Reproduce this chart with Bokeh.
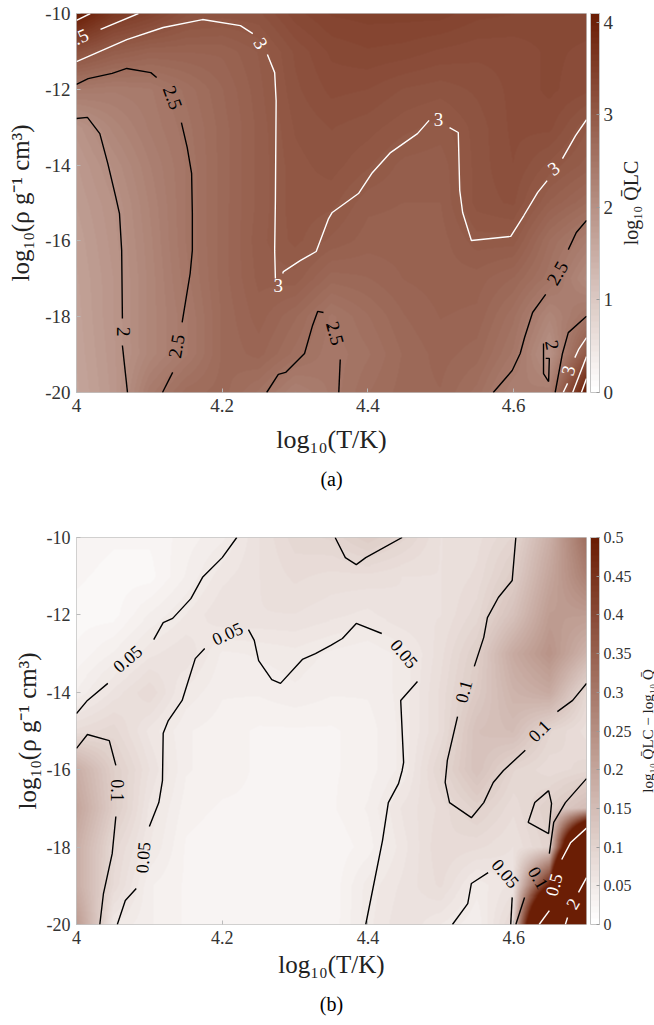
import numpy as np
from bokeh.core.properties import value
from bokeh.embed import file_html
from bokeh.layouts import column, row
from bokeh.models import ColorBar, FixedTicker, LinearColorMapper, Range1d, Title
from bokeh.plotting import figure
from bokeh.resources import INLINE

FONT = "Liberation Serif"

# grid of the maps
T_NODES = [4.0, 4.05, 4.1, 4.15, 4.2, 4.25, 4.3, 4.35, 4.4, 4.45, 4.5, 4.55, 4.6, 4.65, 4.7]
RHO_NODES = [-10, -11, -12, -13, -14, -15, -16, -17, -18, -19, -20]

# panel (a): log10 Q_LC, one row per RHO_NODES entry
QLC = [
    [4.10, 3.60, 3.40, 3.15, 3.10, 3.12, 3.30, 3.40, 3.42, 3.42, 3.42, 3.35, 3.33, 3.30, 3.30],
    [3.15, 2.93, 2.82, 2.82, 2.83, 2.95, 3.15, 3.28, 3.32, 3.30, 3.25, 3.22, 3.22, 3.28, 3.25],
    [2.42, 2.38, 2.42, 2.58, 2.75, 2.92, 3.12, 3.22, 3.20, 3.13, 3.10, 3.15, 3.22, 3.28, 3.22],
    [1.95, 2.20, 2.38, 2.53, 2.72, 2.90, 3.08, 3.14, 3.10, 3.03, 2.98, 3.10, 3.22, 3.22, 3.02],
    [1.85, 2.06, 2.30, 2.50, 2.72, 2.90, 3.05, 3.10, 3.02, 2.92, 2.90, 3.10, 3.20, 3.05, 2.92],
    [1.80, 1.98, 2.25, 2.50, 2.72, 2.90, 3.05, 3.03, 2.90, 2.88, 2.88, 3.10, 3.15, 2.87, 2.70],
    [1.75, 1.95, 2.22, 2.50, 2.72, 2.92, 3.03, 2.93, 2.85, 2.85, 2.85, 2.98, 2.98, 2.62, 2.38],
    [1.72, 1.92, 2.20, 2.47, 2.72, 2.90, 2.92, 2.72, 2.75, 2.82, 2.85, 2.85, 2.75, 2.52, 2.15],
    [1.70, 1.92, 2.20, 2.42, 2.70, 2.85, 2.70, 2.48, 2.62, 2.75, 2.82, 2.80, 2.58, 2.20, 2.50],
    [1.68, 1.90, 2.20, 2.42, 2.70, 2.78, 2.60, 2.45, 2.55, 2.70, 2.78, 2.72, 2.48, 1.98, 3.00],
    [1.65, 1.88, 2.40, 2.65, 2.72, 2.55, 2.30, 2.45, 2.62, 2.72, 2.75, 2.60, 2.30, 2.35, 4.10],
]

# panel (b): log10 Q_LC - log10 Q
DIFF = [
    [.030, .025, .025, .035, .045, .070, .090, .095, .115, .095, .070, .075, .095, .180, .320],
    [.025, .020, .020, .040, .060, .070, .080, .075, .075, .070, .070, .080, .115, .200, .280],
    [.020, .020, .040, .055, .070, .070, .070, .065, .060, .070, .070, .090, .140, .220, .220],
    [.025, .040, .060, .070, .045, .048, .052, .045, .040, .050, .075, .110, .190, .240, .170],
    [.040, .065, .085, .052, .040, .040, .045, .040, .040, .050, .080, .120, .170, .190, .090],
    [.080, .090, .060, .040, .035, .030, .030, .030, .035, .050, .080, .140, .150, .095, .075],
    [.180, .110, .070, .040, .035, .030, .025, .030, .035, .050, .095, .140, .095, .080, .090],
    [.200, .115, .060, .035, .030, .030, .030, .030, .040, .065, .080, .105, .080, .110, .150],
    [.180, .090, .055, .030, .025, .025, .025, .025, .035, .060, .085, .080, .070, .100, 1.20],
    [.180, .085, .040, .030, .025, .030, .025, .025, .050, .065, .080, .050, .065, .500, 2.50],
    [.220, .055, .040, .030, .025, .030, .025, .025, .052, .070, .055, .040, .090, 1.20, 3.50],
]

# contour lines, (log10 T, log10 rho)
A_WHITE = [
    [(4.0, -11.27), (4.069, -10.69), (4.119, -10.37), (4.173, -10.16), (4.225, -10.32), (4.242, -10.53)],
    [(4.262, -11.08), (4.272, -11.56), (4.274, -12.30), (4.273, -14.93), (4.272, -16.25), (4.273, -16.99)],
    [(4.283, -16.86), (4.284, -16.81), (4.307, -16.52), (4.329, -16.28), (4.346, -15.41), (4.351, -15.25),
     (4.387, -14.75), (4.406, -14.20), (4.431, -13.67), (4.468, -13.17), (4.484, -12.82)],
    [(4.512, -13.01), (4.524, -13.14), (4.526, -14.67), (4.530, -15.25), (4.542, -15.99), (4.596, -15.88),
     (4.614, -15.33), (4.633, -14.72), (4.646, -14.41)],
    [(4.667, -13.83), (4.685, -13.22), (4.700, -12.80)],
    [(4.0, -10.18), (4.019, -10.0)],
    [(4.033, -10.42), (4.085, -10.0)],
    [(4.668, -20.0), (4.674, -19.76)],
    [(4.684, -19.08), (4.689, -18.87), (4.700, -18.55)],
    [(4.681, -20.0), (4.700, -19.05)],
    [(4.693, -20.0), (4.700, -19.63)],
]
A_BLACK = [
    [(4.0, -11.87), (4.016, -11.72), (4.049, -11.58), (4.069, -11.45), (4.102, -11.56), (4.110, -11.69)],
    [(4.144, -12.88), (4.152, -13.54), (4.158, -14.22), (4.159, -15.28), (4.159, -16.25), (4.156, -16.86), (4.145, -18.15)],
    [(4.132, -19.47), (4.118, -20.0)],
    [(4.0, -12.77), (4.015, -12.74), (4.032, -13.17), (4.043, -13.96), (4.054, -14.85), (4.059, -15.28),
     (4.062, -16.25), (4.063, -18.05)],
    [(4.063, -18.76), (4.070, -20.0)],
    [(4.261, -20.0), (4.277, -19.52), (4.287, -19.47), (4.313, -18.97), (4.324, -18.23), (4.331, -17.86),
     (4.339, -17.89)],
    [(4.345, -18.23), (4.347, -18.30)],
    [(4.362, -19.13), (4.360, -20.0)],
    [(4.572, -20.0), (4.598, -19.42), (4.609, -18.97), (4.615, -18.55), (4.626, -17.89), (4.644, -17.41)],
    [(4.675, -16.23), (4.686, -15.78), (4.700, -15.46)],
    [(4.657, -20.0), (4.667, -18.97), (4.675, -18.42), (4.700, -17.99)],
    [(4.641, -18.71), (4.641, -19.50), (4.648, -19.71), (4.649, -19.10), (4.644, -19.10)],
]
B_BLACK = [
    [(4.0, -14.55), (4.015, -14.21), (4.043, -13.77)],
    [(4.106, -12.64), (4.119, -12.20), (4.132, -12.09), (4.157, -11.58), (4.173, -11.03), (4.200, -10.52), (4.220, -10.0)],
    [(4.056, -20.0), (4.067, -19.38), (4.082, -19.07)],
    [(4.100, -17.47), (4.113, -16.85), (4.118, -16.28), (4.119, -15.06), (4.126, -14.73), (4.145, -14.21),
     (4.163, -13.13), (4.176, -12.87)],
    [(4.236, -12.38), (4.244, -12.66), (4.250, -13.18), (4.268, -13.67), (4.280, -13.77), (4.310, -13.15),
     (4.328, -13.00), (4.349, -12.79), (4.365, -12.61), (4.384, -12.22), (4.419, -12.48)],
    [(4.468, -13.72), (4.445, -14.21), (4.449, -15.81), (4.447, -16.02), (4.442, -16.36), (4.428, -16.85),
     (4.420, -17.83), (4.397, -20.0)],
    [(4.355, -10.0), (4.369, -10.52), (4.384, -10.70), (4.397, -10.52), (4.447, -10.0)],
    [(4.0, -15.45), (4.015, -15.09), (4.045, -15.25), (4.054, -15.89)],
    [(4.054, -17.21), (4.049, -18.17), (4.037, -19.20), (4.032, -20.0)],
    [(4.603, -10.0), (4.598, -11.11), (4.579, -11.55), (4.564, -12.07), (4.559, -12.58), (4.546, -13.33)],
    [(4.523, -14.63), (4.509, -15.76), (4.506, -16.33), (4.512, -16.85), (4.542, -17.24), (4.559, -16.85),
     (4.572, -16.33), (4.586, -16.02), (4.616, -15.50)],
    [(4.660, -14.50), (4.681, -14.21), (4.700, -13.77)],
    [(4.648, -16.54), (4.629, -16.85), (4.620, -17.36), (4.648, -17.65), (4.652, -16.87), (4.648, -16.54)],
    [(4.700, -16.23), (4.671, -16.85), (4.655, -17.36), (4.649, -18.17)],
    [(4.615, -19.30), (4.603, -20.0)],
    [(4.516, -20.0), (4.537, -19.46), (4.542, -18.94), (4.565, -18.66)],
    [(4.598, -19.30), (4.596, -20.0)],
]
B_WHITE = [
    [(4.700, -17.51), (4.678, -17.89), (4.666, -18.32)],
    [(4.649, -19.64), (4.635, -20.0)],
    [(4.700, -18.79), (4.689, -19.17)],
    [(4.674, -19.82), (4.671, -20.0)],
]

# contour labels: text, log10 T, log10 rho, angle
A_LABELS_WHITE = [("3.5", 4.0, -10.66, 25), ("3", 4.253, -10.79, -60), ("3", 4.277, -17.18, 0),
                  ("3", 4.497, -12.80, 0), ("3", 4.655, -14.09, 35), ("3", 4.675, -19.42, 75)]
A_LABELS_BLACK = [("2.5", 4.132, -12.22, -70), ("2.5", 4.137, -18.78, 80), ("2", 4.065, -18.40, -90),
                  ("2.5", 4.355, -18.44, -75), ("2.5", 4.660, -16.85, 60), ("2", 4.653, -18.75, -80)]
B_LABELS_BLACK = [("0.05", 4.070, -13.13, 40), ("0.05", 4.207, -12.48, 25), ("0.05", 4.450, -13.00, -50),
                  ("0.05", 4.091, -18.27, 85), ("0.1", 4.056, -16.54, -90), ("0.1", 4.531, -13.98, 75),
                  ("0.1", 4.635, -14.99, 45), ("0.05", 4.589, -18.68, -50), ("0.1", 4.634, -18.79, -60)]
B_LABELS_WHITE = [("0.5", 4.655, -18.97, 75), ("2", 4.681, -19.46, 60)]

X_TICKS = [4, 4.2, 4.4, 4.6]
X_TICK_LABELS = ["4", "4.2", "4.4", "4.6"]
Y_TICKS = [-10, -12, -14, -16, -18, -20]
Y_TICK_LABELS = ["-10", "-12", "-14", "-16", "-18", "-20"]
A_CB_TICKS = [0, 1, 2, 3, 4]
A_CB_LABELS = ["0", "1", "2", "3", "4"]
B_CB_TICKS = [0, .05, .1, .15, .2, .25, .3, .35, .4, .45, .5]
B_CB_LABELS = ["0", "0.05", "0.1", "0.15", "0.2", "0.25", "0.3", "0.35", "0.4", "0.45", "0.5"]

LOW_COLOR = np.array([255, 255, 255])
HIGH_COLOR = np.array([107, 30, 5])
PALETTE = ["#%02x%02x%02x" % tuple(int(round(c)) for c in LOW_COLOR + (HIGH_COLOR - LOW_COLOR) * i / 63)
           for i in range(64)]


def upsample(z, nx=510, ny=380):
    """Bilinear display resampling of the value grid; bottom row first for the image glyph."""
    z = np.asarray(z, float)[::-1]
    rho = np.asarray(RHO_NODES[::-1], float)
    t = np.asarray(T_NODES)
    tf = np.linspace(t[0], t[-1], nx)
    rf = np.linspace(rho[0], rho[-1], ny)
    rows = np.array([np.interp(tf, t, r) for r in z])
    return np.array([np.interp(rf, rho, rows[:, j]) for j in range(nx)]).T


def panel(z, high, cb_ticks, cb_labels, frame_h, top, total_h, whites, blacks, lab_w, lab_b,
          fs, cb_fs, xlab_fs, ylab_fs, xstand, ystand, title, title_fs, title_stand, strip_w, caption, cap_stand):
    main_w = 654 - strip_w
    p = figure(width=main_w, height=total_h, frame_width=510, frame_height=frame_h,
               x_range=Range1d(4, 4.7), y_range=Range1d(-20, -10),
               output_backend="svg", toolbar_location=None,
               min_border_left=76, min_border_right=main_w - 586, min_border_top=top,
               min_border_bottom=total_h - frame_h - top)
    mapper = LinearColorMapper(palette=PALETTE, low=0, high=high)
    p.image(image=[upsample(z)], x=4, y=-20, dw=0.7, dh=10, color_mapper=mapper)
    for segs, col in ((whites, "white"), (blacks, "black")):
        p.multi_line([[q[0] for q in s] for s in segs], [[q[1] for q in s] for s in segs],
                     line_color=col, line_width=1.4)
    for labs, col in ((lab_w, "white"), (lab_b, "black")):
        p.text([l[1] for l in labs], [l[2] for l in labs], text=[l[0] for l in labs],
               angle=[l[3] for l in labs], angle_units="deg", text_color=col,
               text_font=value(FONT), text_font_size=f"{fs}px", text_align="center", text_baseline="middle")
    p.grid.visible = False
    p.outline_line_color = "#c4c4c4"
    for ax, ticks, labels in ((p.xaxis[0], X_TICKS, X_TICK_LABELS), (p.yaxis[0], Y_TICKS, Y_TICK_LABELS)):
        ax.ticker = FixedTicker(ticks=ticks)
        ax.major_label_overrides = dict(zip(ticks, labels))
        ax.major_label_text_font = FONT
        ax.major_label_text_font_size = f"{fs}px"
        ax.major_label_text_color = "#333333"
        ax.axis_line_color = None
        ax.major_tick_in = 4
        ax.major_tick_out = 0
        ax.major_tick_line_color = "#bbbbbb"
        ax.minor_tick_line_color = None
        ax.major_label_standoff = 6
        ax.axis_label_text_font = FONT
        ax.axis_label_text_font_style = "normal"
        ax.axis_label_text_color = "#222222"
    p.xaxis[0].axis_label = "log₁₀(T/K)"
    p.xaxis[0].axis_label_text_font_size = f"{xlab_fs}px"
    p.xaxis[0].axis_label_standoff = xstand
    p.yaxis[0].axis_label = "log₁₀(ρ g⁻¹ cm³)"
    p.yaxis[0].axis_label_text_font_size = f"{ylab_fs}px"
    p.yaxis[0].axis_label_standoff = ystand
    cb = ColorBar(color_mapper=mapper, ticker=FixedTicker(ticks=cb_ticks),
                  major_label_overrides=dict(zip(cb_ticks, cb_labels)),
                  width=9, height=frame_h, location=(4, 0), margin=0, padding=0,
                  major_label_text_font=FONT, major_label_text_font_size=f"{cb_fs}px",
                  major_label_text_color="#333333", label_standoff=4,
                  major_tick_line_color="#999999", major_tick_in=3, minor_tick_line_color=None,
                  bar_line_color="#c4c4c4", border_line_color=None, background_fill_color=None)
    p.add_layout(cb, "right")
    p.add_layout(Title(text=caption, align="center", text_font=FONT, text_font_size="20px",
                       text_font_style="normal", text_color="black", standoff=cap_stand), "below")

    # narrow strip beside the map: carries the colour-bar title, reading upwards
    s = figure(width=strip_w, height=total_h, frame_width=1, frame_height=frame_h,
               x_range=Range1d(0, 1), y_range=Range1d(0, 1),
               output_backend="svg", toolbar_location=None,
               min_border_left=strip_w - 1, min_border_right=0, min_border_top=top,
               min_border_bottom=total_h - frame_h - top)
    s.grid.visible = False
    s.outline_line_color = None
    s.xaxis.visible = False
    ya = s.yaxis[0]
    ya.ticker = FixedTicker(ticks=[])
    ya.axis_line_color = None
    ya.major_tick_line_color = None
    ya.minor_tick_line_color = None
    ya.axis_label = title
    ya.axis_label_text_font = FONT
    ya.axis_label_text_font_style = "normal"
    ya.axis_label_text_color = "#222222"
    ya.axis_label_text_font_size = f"{title_fs}px"
    ya.axis_label_standoff = title_stand
    return row(p, s, spacing=0)


pa = panel(QLC, 4.097, A_CB_TICKS, A_CB_LABELS, 379, 13, 512, A_WHITE, A_BLACK, A_LABELS_WHITE, A_LABELS_BLACK,
           19, 19, 26, 25, 10, 8, "log₁₀ Q̄LC", 20, 14, 40, "(a)", 18)
pb = panel(DIFF, 0.5, B_CB_TICKS, B_CB_LABELS, 387, 25, 513, B_WHITE, B_BLACK, B_LABELS_WHITE, B_LABELS_BLACK,
           18, 16, 25, 25, 4, 3, "log₁₀ Q̄LC − log₁₀ Q̄", 15, 0, 22, "(b)", 20)

page = column(pa, pb, spacing=0)
open("out.html", "w").write(file_html(page, INLINE))
